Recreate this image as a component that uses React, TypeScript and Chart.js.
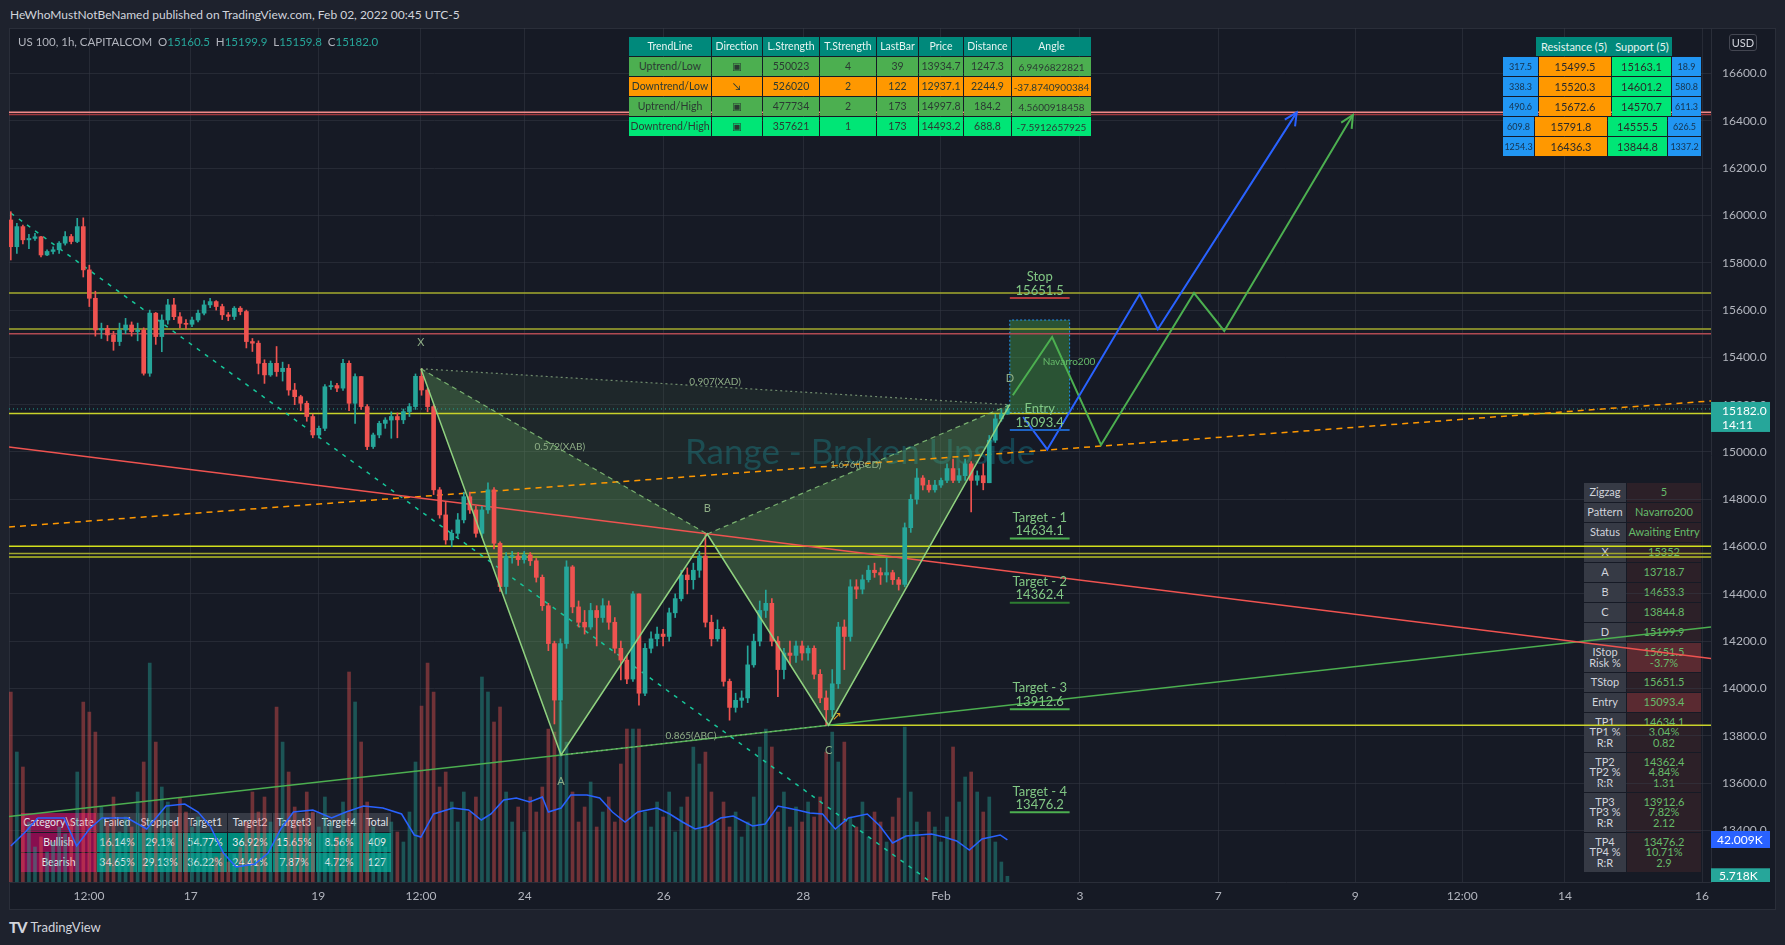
import React, { useEffect, useRef } from "react";
import { Chart, registerables } from "chart.js";

Chart.register(...registerables);

const FONT = "Lato, 'Noto Sans', 'DejaVu Sans', sans-serif";

/* ---------------- data ---------------- */
const FIRST_OPEN = 15981;
const CLOSE = [
  15868, 15953, 15897, 15903, 15910, 15833, 15848, 15855, 15883, 15911,
  15890, 15953, 15770, 15650, 15516, 15523, 15495, 15467, 15516, 15537,
  15509, 15516, 15333, 15587, 15488, 15558, 15622, 15572, 15544, 15540,
  15558, 15587, 15622, 15636, 15615, 15580, 15573, 15608, 15594, 15467,
  15460, 15375, 15326, 15375, 15340, 15354, 15262, 15234, 15206, 15150,
  15072, 15100, 15276, 15281, 15270, 15375, 15206, 15319, 15192, 15023,
  15072, 15121, 15135, 15150, 15136, 15171, 15192, 15320, 15262, 15192,
  14840, 14734, 14628, 14656, 14713, 14811, 14755, 14656, 14755, 14840,
  14614, 14431, 14558, 14560, 14545, 14565, 14540, 14470, 14350, 14190,
  13951, 14190, 14514, 14345, 14280, 14260, 14330, 14300, 14350, 14280,
  14170, 14120, 14040, 14400, 13980, 14170, 14210, 14230, 14220, 14320,
  14380, 14480, 14460, 14500, 14560, 14280, 14210, 14250, 14030, 13920,
  13950, 13960, 14100, 14200, 14330, 14360, 14200, 14080, 14150, 14140,
  14180, 14150, 14170, 14060, 13960, 13910, 14020, 14260, 14220, 14430,
  14420, 14460, 14500, 14490, 14480, 14490, 14460, 14440, 14680, 14800,
  14890, 14860, 14840, 14860, 14880, 14930, 14880, 14900, 14950, 14880,
  14900, 14870, 15050, 15140, 15160.5, 15182.0,
];
const HIGH = [
  16016, 15967, 15960, 15920, 15925, 15912, 15855, 15868, 15890, 15932,
  15920, 15988, 15990, 15790, 15680, 15545, 15535, 15510, 15545, 15565,
  15550, 15545, 15525, 15600, 15590, 15580, 15645, 15650, 15590, 15560,
  15570, 15600, 15640, 15650, 15640, 15625, 15590, 15615, 15615, 15600,
  15480, 15470, 15390, 15385, 15446, 15380, 15370, 15290, 15240, 15215,
  15160, 15110, 15285, 15300, 15290, 15392, 15385, 15330, 15320, 15200,
  15080, 15130, 15145, 15170, 15165, 15182, 15205, 15330, 15352, 15270,
  15200, 14850, 14790, 14670, 14740, 14830, 14830, 14770, 14770, 14870,
  14850, 14620, 14575, 14580, 14575, 14580, 14575, 14550, 14480, 14360,
  14200, 14210, 14540, 14520, 14370, 14330, 14360, 14350, 14380, 14370,
  14300, 14200, 14140, 14410, 14400, 14190, 14240, 14260, 14250, 14340,
  14400, 14500, 14510, 14530, 14580, 14653.3, 14310, 14290, 14260, 14040,
  13980, 13990, 14180, 14230, 14370, 14416, 14380, 14220, 14170, 14200,
  14200, 14200, 14180, 14180, 14080, 13990, 14080, 14280, 14290, 14460,
  14460, 14480, 14520, 14530, 14510, 14550, 14500, 14470, 14700, 14820,
  14930, 14900, 14880, 14880, 14890, 14950, 14970, 14930, 14970, 14960,
  14920, 14950, 15070, 15160, 15180, 15199.9,
];
const LOW = [
  15812, 15840, 15880, 15860, 15895, 15825, 15830, 15838, 15840, 15875,
  15880, 15885, 15740, 15615, 15490, 15480, 15470, 15430, 15450, 15500,
  15490, 15470, 15325, 15320, 15455, 15424, 15540, 15560, 15525, 15520,
  15530, 15550, 15580, 15610, 15600, 15560, 15555, 15560, 15580, 15440,
  15425, 15330, 15290, 15320, 15320, 15300, 15240, 15200, 15175, 15130,
  15060, 15060, 15090, 15265, 15255, 15260, 15175, 15121, 15180, 15010,
  15015, 15060, 15100, 15058, 15060, 15120, 15150, 15180, 15240, 15170,
  14820, 14720, 14610, 14600, 14640, 14700, 14740, 14640, 14640, 14740,
  14590, 14410, 14400, 14530, 14520, 14530, 14520, 14450, 14330, 14160,
  13850, 13718.7, 14170, 14320, 14260, 14230, 14250, 14180, 14280, 14250,
  14150, 14036, 14020, 14030, 13930, 13970, 14150, 14180, 14180, 14200,
  14300, 14370, 14400, 14420, 14470, 14260, 14180, 14200, 14010, 13866,
  13900, 13920, 13940, 14090, 14180, 14300, 14180, 13965, 14040, 14100,
  14110, 14120, 14120, 14040, 13940, 13844.8, 13880, 14000, 14080, 14200,
  14380, 14400, 14450, 14470, 14440, 14450, 14440, 14416, 14430, 14660,
  14780, 14840, 14830, 14830, 14850, 14870, 14870, 14870, 14880, 14747,
  14860, 14840, 14870, 15040, 15130, 15159.8,
];
const VOLUME_K = [
  190, 130, 115, 60, 35, 45, 30, 40, 55, 48,
  62, 110, 180, 170, 150, 75, 60, 85, 50, 65,
  55, 90, 120, 219, 140, 95, 80, 60, 84, 70,
  55, 65, 45, 35, 25, 30, 20, 28, 35, 60,
  90, 70, 85, 60, 175, 140, 110, 75, 60, 90,
  70, 55, 85, 60, 45, 80, 210, 180, 140, 80,
  55, 45, 35, 60, 50, 40, 70, 120, 176, 219,
  190, 95, 110, 80, 60, 90, 70, 85, 205, 190,
  160, 175, 90, 60, 75, 50, 85, 70, 95, 153,
  150, 180, 140, 90, 60, 75, 100, 55, 70, 85,
  60, 118, 153, 153, 153, 70, 55, 80, 65, 90,
  50, 75, 85, 135, 118, 130, 90, 60, 80, 55,
  70, 45, 60, 85, 135, 153, 135, 70, 90, 55,
  75, 60, 80, 65, 85, 130, 150, 120, 140, 65,
  55, 80, 45, 70, 60, 40, 65, 84, 155, 90,
  60, 45, 70, 55, 40, 65, 135, 80, 105, 110,
  90, 70, 85, 40, 20, 5.718,
];
const VOL_MA_AT = [0, 2.4, 4.5, 8.8, 10.9, 13, 15.1, 19.3, 22.5, 25.7, 28.8, 31, 33, 35.2, 37.3, 40.4, 42.6, 44.7, 46.8, 50, 53.1, 55.5, 58.4, 61.6, 64.7, 66.8, 67.9, 70, 73.2, 75.8, 77.9, 79.5, 81.6, 83.7, 85.9, 88, 89, 91.1, 92.7, 95.4, 97.5, 99.6, 101.7, 103.8, 107, 109.1, 111.2, 113.3, 115.4, 117.5, 119.6, 122.8, 124.9, 127, 130.2, 132.3, 134.4, 136.5, 138.7, 141.8, 143.9, 146, 148.2, 152.4, 154.5, 156.6, 158.7, 160.8, 163.8, 165];
const VOL_MA_K = [36, 50, 64, 64, 36, 53, 64, 64, 53, 76, 78, 70, 56, 29, 15, 18, 29, 53, 70, 72, 64, 70, 76, 74, 68, 47, 45, 68, 74, 72, 62, 68, 82, 84, 80, 85, 70, 74, 87, 87, 84, 70, 60, 70, 74, 68, 60, 53, 56, 64, 66, 56, 58, 76, 72, 69, 68, 53, 64, 68, 56, 39, 46, 48, 45, 41, 32, 43, 47, 42.009];

const PRICE_TICKS = [13400, 13600, 13800, 14000, 14200, 14400, 14600, 14800, 15000, 15200, 15400, 15600, 15800, 16000, 16200, 16400, 16600];
const TIME_TICK_AT = [12.95, 29.8, 50.9, 67.9, 85.1, 108.1, 131.2, 154.0, 177.0, 199.9, 222.6, 240.3, 257.3, 280.0];
const TIME_TICK_LABELS = ["12:00", "17", "19", "12:00", "24", "26", "28", "Feb", "3", "7", "9", "12:00", "14", "16"];

const LEVEL_PRICES = [16436.3, 16427.5, 15672.6, 15520.3, 15499.5, 15163.1, 14601.2, 14570.7, 14555.5];
const SUPPORT_C = 13844.8;
const LAST_PRICE = 15182.0;
const COUNTDOWN = "14:11";

const PAT_NAMES = ["X", "A", "B", "C", "D"];
const PAT_AT = [67.9, 91.1, 115.3, 135.4, 165.4];
const PAT_PRICE = [15352, 13718.7, 14653.3, 13844.8, 15199.9];

const RATIO_TEXT = ["0.907(XAD)", "0.572(XAB)", "1.676(BCD)", "0.865(ABC)"];
const RATIO_AT = [116.6, 90.9, 139.9, 112.6];
const RATIO_PRICE = [15296, 15021, 14945, 13799];

const TREND_RED = [15021, 14127];
const TREND_GREEN = [13459, 14260];
const TREND_ORANGE = [14683, 15216];
const TREND_TEAL_AT = [0, 152.3];
const TREND_TEAL = [16010, 13181.8];

const BOX_AT = [165.4, 175.3];
const BOX_PRICE = [15166, 15558];

const PROJ_BLUE_AT = [167.6, 171.6, 186.9, 189.9, 212.9];
const PROJ_BLUE = [15148, 15011, 15668, 15519, 16436];
const PROJ_GREEN_AT = [165.9, 172.4, 180.5, 195.9, 200.9, 222.2];
const PROJ_GREEN = [15240, 15486, 15030, 15672, 15512, 16425];

const TARGET_TITLES = ["Stop", "Entry", "Target - 1", "Target - 2", "Target - 3", "Target - 4"];
const TARGET_PRICES = [15651.5, 15093.4, 14634.1, 14362.4, 13912.6, 13476.2];

const WATERMARK = "Range - Broken Upside";
const WATERMARK_AT = 140.6;
const WATERMARK_PRICE = 14996;
const PATTERN_NAME = "Navarro200";
const PATTERN_NAME_AT = 175.2;
const PATTERN_NAME_PRICE = 15381;
const C_ARROW_AT = 136.8;
const C_ARROW_PRICE = 13880;

const TREND_HEAD = ["TrendLine", "Direction", "L.Strength", "T.Strength", "LastBar", "Price", "Distance", "Angle"];
const TREND_ROWS = [
  ["Uptrend/Low", "▣", "550023", "4", "39", "13934.7", "1247.3", "6.9496822821"],
  ["Downtrend/Low", "↘", "526020", "2", "122", "12937.1", "2244.9", "-37.8740900384"],
  ["Uptrend/High", "▣", "477734", "2", "173", "14997.8", "184.2", "4.5600918458"],
  ["Downtrend/High", "▣", "357621", "1", "173", "14493.2", "688.8", "-7.5912657925"],
];
const SR_HEAD = ["Resistance (5)", "Support (5)"];
const SR_RES_DIST = ["317.5", "338.3", "490.6", "609.8", "1254.3"];
const SR_RES = ["15499.5", "15520.3", "15672.6", "15791.8", "16436.3"];
const SR_SUP = ["15163.1", "14601.2", "14570.7", "14555.5", "13844.8"];
const SR_SUP_DIST = ["18.9", "580.8", "611.3", "626.5", "1337.2"];
const ZZ_LABELS = ["Zigzag", "Pattern", "Status", "X", "A", "B", "C", "D", "IStop\nRisk %", "TStop", "Entry", "TP1\nTP1 %\nR:R", "TP2\nTP2 %\nR:R", "TP3\nTP3 %\nR:R", "TP4\nTP4 %\nR:R"];
const ZZ_VALUES = ["5", "Navarro200", "Awaiting Entry", "15352", "13718.7", "14653.3", "13844.8", "15199.9", "15651.5\n-3.7%", "15651.5", "15093.4", "14634.1\n3.04%\n0.82", "14362.4\n4.84%\n1.31", "13912.6\n7.82%\n2.12", "13476.2\n10.71%\n2.9"];
const STATS_HEAD = ["Category\\State", "Failed", "Stopped", "Target1", "Target2", "Target3", "Target4", "Total"];
const STATS_ROWS = [
  ["Bullish", "16.14%", "29.1%", "54.77%", "36.92%", "15.65%", "8.56%", "409"],
  ["Bearish", "34.65%", "29.13%", "36.22%", "24.41%", "7.87%", "4.72%", "127"],
];

/* ---------------- scale ranges & styles ---------------- */
const X_MIN = -0.3;
const X_MAX = 281.49;
const Y_MIN = 13181.8;
const Y_MAX = 16792.8;
const VOL_MAX = 854;

const UP_C = "#26a69a";
const DN_C = "#ef5350";
const GRID = "rgba(54,58,69,0.5)";
const BORDER = "#2a2e39";
const AXIS_TEXT = "#b2b5be";
const LEVEL_COLORS = ["#f08a8a", "#a3383e", "#a4ab2e", "#a4ab2e", "#b04a52", "#c9d22a", "#d2df1d", "#9fa52e", "#b8c024"];
const TARGET_LINE_COLORS = ["#b2383c", "#1e63c4", "#4caf50", "#2e7d32", "#4caf50", "#4caf50"];
const PAT_LABEL_DY = [-26, 26, -26, 25, -26];

const fmtK = (v: number) => v.toFixed(3) + "K";

function buildConfig() {
  const OPEN = CLOSE.map((_, i) => (i === 0 ? FIRST_OPEN : CLOSE[i - 1]));
  const up = CLOSE.map((c, i) => c >= OPEN[i]);
  const P = (xs: number[], ys: number[]) => xs.map((x, i) => ({ x, y: ys[i] }));
  const poly = (idx: number[]) => idx.map((k) => ({ x: PAT_AT[k], y: PAT_PRICE[k] }));
  const L = (data: any[], color: string, width: number, dash: number[], order: number, extra: any = {}) => ({
    type: "line", data, borderColor: color, borderWidth: width, borderDash: dash,
    pointRadius: 0, pointHoverRadius: 0, fill: false, tension: 0, order, yAxisID: "y", ...extra,
  });
  const ds: any[] = [];
  ds.push({
    type: "bar", yAxisID: "yv", data: VOLUME_K.map((v, i) => ({ x: i, y: v })),
    backgroundColor: up.map((u) => (u ? "rgba(38,166,154,0.42)" : "rgba(239,83,80,0.42)")),
    barThickness: 3, maxBarThickness: 3, grouped: false, order: 100,
  });
  ds.push(L(poly([0, 2, 4, 0]), "rgba(0,0,0,0)", 0, [], 96, { fill: "shape", backgroundColor: "rgba(110,180,100,0.09)" }));
  ds.push(L(poly([0, 1, 2, 0]), "rgba(0,0,0,0)", 0, [], 95, { fill: "shape", backgroundColor: "rgba(110,180,100,0.33)" }));
  ds.push(L(poly([2, 3, 4, 2]), "rgba(0,0,0,0)", 0, [], 95, { fill: "shape", backgroundColor: "rgba(110,180,100,0.33)" }));
  ds.push(L([
    { x: BOX_AT[0], y: BOX_PRICE[0] }, { x: BOX_AT[1], y: BOX_PRICE[0] },
    { x: BOX_AT[1], y: BOX_PRICE[1] }, { x: BOX_AT[0], y: BOX_PRICE[1] }, { x: BOX_AT[0], y: BOX_PRICE[0] },
  ], "#2196f3", 1, [2, 2], 94, { fill: "shape", backgroundColor: "rgba(76,175,80,0.38)" }));
  LEVEL_PRICES.forEach((p, k) => ds.push(L([{ x: X_MIN, y: p }, { x: X_MAX, y: p }], LEVEL_COLORS[k], 1.5, [], 80)));
  ds.push(L([{ x: PAT_AT[3], y: SUPPORT_C }, { x: X_MAX, y: SUPPORT_C }], "#c9d22a", 1.5, [], 80));
  ds.push(L([{ x: X_MIN, y: LAST_PRICE }, { x: X_MAX, y: LAST_PRICE }], "rgba(38,166,154,0.9)", 1, [1, 3], 79));
  ds.push(L([{ x: X_MIN, y: TREND_RED[0] }, { x: X_MAX, y: TREND_RED[1] }], "#ef5350", 1.5, [], 70));
  ds.push(L([{ x: X_MIN, y: TREND_GREEN[0] }, { x: X_MAX, y: TREND_GREEN[1] }], "#4caf50", 1.5, [], 70));
  ds.push(L([{ x: X_MIN, y: TREND_ORANGE[0] }, { x: X_MAX, y: TREND_ORANGE[1] }], "#ff9800", 1.5, [6, 5], 70));
  ds.push(L(P(TREND_TEAL_AT, TREND_TEAL), "#16c79a", 1.5, [4, 6], 70));
  ds.push({
    type: "bar", yAxisID: "y", data: CLOSE.map((_, i) => ({ x: i, y: [LOW[i], HIGH[i]] })),
    backgroundColor: up.map((u) => (u ? UP_C : DN_C)), barThickness: 1, maxBarThickness: 1, grouped: false, order: 50,
  });
  ds.push({
    type: "bar", yAxisID: "y", data: CLOSE.map((c, i) => ({ x: i, y: [OPEN[i], c] })),
    backgroundColor: up.map((u) => (u ? UP_C : DN_C)), barThickness: 4, maxBarThickness: 4, minBarLength: 1, grouped: false, order: 45,
  });
  ds.push(L(poly([0, 1, 2, 3, 4]), "#8fd17f", 1.5, [], 30));
  ds.push(L(poly([0, 2]), "rgba(143,209,127,0.8)", 1.2, [5, 4], 31));
  ds.push(L(poly([2, 4]), "rgba(143,209,127,0.8)", 1.2, [5, 4], 31));
  ds.push(L(poly([0, 4]), "rgba(150,185,140,0.7)", 1.2, [2, 3], 31));
  ds.push(L(poly([1, 3]), "rgba(150,185,140,0.7)", 1.2, [2, 3], 31));
  ds.push(L(P(PROJ_BLUE_AT, PROJ_BLUE), "#2962ff", 2, [], 12));
  ds.push(L(P(PROJ_GREEN_AT, PROJ_GREEN), "#4caf50", 2, [], 12));
  TARGET_PRICES.forEach((p, k) => ds.push(L([{ x: BOX_AT[0], y: p }, { x: BOX_AT[1], y: p }], TARGET_LINE_COLORS[k], 2, [], 8)));
  ds.push(L(P(VOL_MA_AT, VOL_MA_K), "#2962ff", 1.5, [], 6, { yAxisID: "yv" }));

  const overlay = {
    id: "overlay",
    beforeDatasetsDraw(chart: any) {
      const { ctx, chartArea: a, scales } = chart;
      ctx.save();
      ctx.beginPath();
      ctx.rect(a.left, a.top, a.right - a.left, a.bottom - a.top);
      ctx.clip();
      ctx.font = `35px ${FONT}`;
      ctx.fillStyle = "rgba(20,140,160,0.36)";
      ctx.textAlign = "center";
      ctx.textBaseline = "middle";
      ctx.fillText(WATERMARK, scales.x.getPixelForValue(WATERMARK_AT), scales.y.getPixelForValue(WATERMARK_PRICE));
      ctx.restore();
    },
    afterDatasetsDraw(chart: any) {
      const { ctx, chartArea: a, scales } = chart;
      const px = (v: number) => scales.x.getPixelForValue(v);
      const py = (v: number) => scales.y.getPixelForValue(v);
      ctx.save();
      ctx.beginPath();
      ctx.rect(a.left, a.top, a.right - a.left, a.bottom - a.top);
      ctx.clip();
      ctx.textAlign = "center";
      ctx.textBaseline = "middle";
      ctx.font = `11px ${FONT}`;
      ctx.fillStyle = "#8fae86";
      PAT_NAMES.forEach((n, k) => ctx.fillText(n, px(PAT_AT[k]), py(PAT_PRICE[k]) + PAT_LABEL_DY[k]));
      ctx.font = `10px ${FONT}`;
      RATIO_TEXT.forEach((t, k) => ctx.fillText(t, px(RATIO_AT[k]), py(RATIO_PRICE[k])));
      ctx.fillStyle = "#66bb6a";
      ctx.fillText(PATTERN_NAME, px(PATTERN_NAME_AT), py(PATTERN_NAME_PRICE));
      ctx.font = `13px ${FONT}`;
      ctx.fillStyle = "#81c784";
      const cx = px((BOX_AT[0] + BOX_AT[1]) / 2);
      TARGET_TITLES.forEach((t, k) => {
        const yy = py(TARGET_PRICES[k]);
        ctx.fillText(t, cx, yy - 21);
        ctx.fillText(TARGET_PRICES[k].toFixed(1), cx, yy - 7.5);
      });
      ctx.font = `12px 'DejaVu Sans', sans-serif`;
      ctx.fillStyle = "#e0a020";
      ctx.fillText("↗", px(C_ARROW_AT), py(C_ARROW_PRICE));
      const arrow = (xs: number[], ys: number[], color: string) => {
        const n = xs.length;
        const x1 = px(xs[n - 2]), y1 = py(ys[n - 2]), x2 = px(xs[n - 1]), y2 = py(ys[n - 1]);
        const ang = Math.atan2(y2 - y1, x2 - x1);
        ctx.strokeStyle = color;
        ctx.lineWidth = 2;
        ctx.beginPath();
        ctx.moveTo(x2 - 14 * Math.cos(ang - 0.45), y2 - 14 * Math.sin(ang - 0.45));
        ctx.lineTo(x2, y2);
        ctx.lineTo(x2 - 14 * Math.cos(ang + 0.45), y2 - 14 * Math.sin(ang + 0.45));
        ctx.stroke();
      };
      arrow(PROJ_BLUE_AT, PROJ_BLUE, "#2962ff");
      arrow(PROJ_GREEN_AT, PROJ_GREEN, "#4caf50");
      ctx.restore();
    },
    afterDraw(chart: any) {
      const { ctx, chartArea: a, scales } = chart;
      const left = a.right;
      const w = 59;
      ctx.save();
      ctx.font = `12px ${FONT}`;
      ctx.textAlign = "left";
      ctx.textBaseline = "middle";
      const p = scales.y.getPixelForValue(LAST_PRICE);
      ctx.fillStyle = "#26a69a";
      ctx.fillRect(left, p - 7, w, 30);
      ctx.fillStyle = "#ffffff";
      ctx.fillText(LAST_PRICE.toFixed(1), left + 11, p + 2);
      ctx.fillText(COUNTDOWN, left + 11, p + 16);
      const ma = VOL_MA_K[VOL_MA_K.length - 1];
      const pm = scales.yv.getPixelForValue(ma);
      ctx.fillStyle = "#2962ff";
      ctx.fillRect(left, pm - 9, w, 17);
      ctx.fillStyle = "#ffffff";
      ctx.fillText(fmtK(ma), left + 6, pm);
      ctx.beginPath();
      ctx.rect(left, 0, w + 10, a.bottom);
      ctx.clip();
      const lv = VOLUME_K[VOLUME_K.length - 1];
      const pv = scales.yv.getPixelForValue(lv);
      ctx.fillStyle = "#26a69a";
      ctx.fillRect(left, pv - 8, w, 17);
      ctx.fillStyle = "#ffffff";
      ctx.fillText(fmtK(lv), left + 8, pv);
      ctx.restore();
    },
  };

  return {
    type: "line",
    data: { datasets: ds },
    options: {
      responsive: false,
      animation: false,
      devicePixelRatio: 1,
      events: [],
      layout: { padding: 0, autoPadding: false },
      plugins: { legend: { display: false }, tooltip: { enabled: false } },
      scales: {
        x: {
          type: "linear", min: X_MIN, max: X_MAX, offset: false, bounds: "data",
          grid: { color: GRID, drawTicks: false, offset: false },
          border: { display: true, color: BORDER },
          ticks: {
            color: AXIS_TEXT, font: { family: FONT, size: 12 }, padding: 7, maxRotation: 0, autoSkip: false,
            callback: (_v: any, i: number) => TIME_TICK_LABELS[i] ?? "",
          },
          afterBuildTicks: (s: any) => { s.ticks = TIME_TICK_AT.map((v) => ({ value: v })); },
          afterFit: (s: any) => { s.height = 28; s.paddingLeft = 0; s.paddingRight = 0; },
        },
        y: {
          type: "linear", position: "right", min: Y_MIN, max: Y_MAX, bounds: "data",
          grid: { color: GRID, drawTicks: false },
          border: { display: true, color: BORDER },
          ticks: { color: AXIS_TEXT, font: { family: FONT, size: 12 }, padding: 11, callback: (v: any) => Number(v).toFixed(1) },
          afterBuildTicks: (s: any) => { s.ticks = PRICE_TICKS.map((v) => ({ value: v })); },
          afterFit: (s: any) => { s.width = 65; s.paddingTop = 0; s.paddingBottom = 0; },
        },
        yv: { type: "linear", display: false, min: 0, max: VOL_MAX },
      },
    },
    plugins: [overlay],
  };
}

type CellProps = { x: number; y: number; w: number; h: number; bg: string; color: string; text: string; fs: number; lh?: number; justify?: string };
function Cell(p: CellProps) {
  return (
    <div
      style={{
        position: "absolute", left: p.x, top: p.y, width: p.w, height: p.h, background: p.bg, color: p.color,
        fontSize: p.fs, lineHeight: `${p.lh ?? p.fs + 2}px`, display: "flex", alignItems: "center",
        justifyContent: p.justify ?? "center", textAlign: "center", whiteSpace: "pre", overflow: "hidden",
        fontFamily: FONT, boxSizing: "border-box",
      }}
    >
      {p.text}
    </div>
  );
}

const TC_X = [629, 712, 763, 820, 877, 919, 964, 1012];
const TC_W = [82, 50, 56, 56, 41, 44, 47, 79];
const TC_FS = [10.5, 10.5, 10.5, 10.5, 10.5, 10.5, 10.5, 10];
const TREND_ROW_BG = ["#4caf50", "#ff9800", "#4caf50", "#00e676"];
const ST_X = [21, 97, 138, 183, 228, 273, 316, 363];
const ST_W = [75, 40, 44, 44, 44, 42, 46, 28];

function TrendTable() {
  const cells: any[] = [];
  TREND_HEAD.forEach((t, c) => cells.push(<Cell key={`h${c}`} x={TC_X[c]} y={37} w={TC_W[c]} h={19} bg="#00897b" color="#e6f4f1" text={t} fs={10.5} />));
  TREND_ROWS.forEach((row, r) =>
    row.forEach((t, c) =>
      cells.push(<Cell key={`r${r}c${c}`} x={TC_X[c]} y={57 + 20 * r} w={TC_W[c]} h={19} bg={TREND_ROW_BG[r]} color="#2b3a33" text={t} fs={TC_FS[c]} />)
    )
  );
  return <>{cells}</>;
}

function SRTable() {
  const cells: any[] = [];
  cells.push(<Cell key="h0" x={1536} y={37} w={76} h={19} bg="#00897b" color="#e6f4f1" text={SR_HEAD[0]} fs={11} />);
  cells.push(<Cell key="h1" x={1612} y={37} w={60} h={19} bg="#00897b" color="#e6f4f1" text={SR_HEAD[1]} fs={11} />);
  SR_RES.forEach((_, r) => {
    const xs = r < 3 ? [1503, 1539, 1612, 1672] : [1503, 1535, 1608, 1668];
    const ws = r < 3 ? [35, 72, 59, 29] : [31, 72, 59, 33];
    const y = 57 + 20 * r;
    cells.push(<Cell key={`a${r}`} x={xs[0]} y={y} w={ws[0]} h={19} bg="#2196f3" color="#16324d" text={SR_RES_DIST[r]} fs={9} />);
    cells.push(<Cell key={`b${r}`} x={xs[1]} y={y} w={ws[1]} h={19} bg="#ff9800" color="#2a2a2a" text={SR_RES[r]} fs={11} />);
    cells.push(<Cell key={`c${r}`} x={xs[2]} y={y} w={ws[2]} h={19} bg="#00e676" color="#2a2a2a" text={SR_SUP[r]} fs={11} />);
    cells.push(<Cell key={`d${r}`} x={xs[3]} y={y} w={ws[3]} h={19} bg="#2196f3" color="#16324d" text={SR_SUP_DIST[r]} fs={9} />);
  });
  return <>{cells}</>;
}

function ZigzagTable() {
  const cells: any[] = [];
  let y = 483;
  ZZ_LABELS.forEach((lab, r) => {
    const lines = lab.split("\n").length;
    const h = 19 + (lines - 1) * 10;
    const hi = r === 8 || r === 10;
    cells.push(<Cell key={`l${r}`} x={1584} y={y} w={42} h={h} bg="#363a45" color="#d1d4dc" text={lab} fs={11} lh={10.5} />);
    cells.push(<Cell key={`v${r}`} x={1627} y={y} w={74} h={h} bg={hi ? "#5a2a31" : "#2c2028"} color="#66bb6a" text={ZZ_VALUES[r]} fs={11} lh={10.5} />);
    y += h + 1;
  });
  return <>{cells}</>;
}

function StatsTable() {
  const cells: any[] = [];
  STATS_HEAD.forEach((t, c) =>
    cells.push(<Cell key={`h${c}`} x={ST_X[c]} y={813} w={ST_W[c]} h={19} bg={c === 0 ? "#8e1450" : "#363a45"} color="#e0e3eb" text={t} fs={10.5} />)
  );
  STATS_ROWS.forEach((row, r) =>
    row.forEach((t, c) =>
      cells.push(<Cell key={`r${r}c${c}`} x={ST_X[c]} y={833 + 20 * r} w={ST_W[c]} h={19} bg={c === 0 ? "#880e4f" : "#00897b"} color="#e8eaed" text={t} fs={10.5} />)
    )
  );
  return <>{cells}</>;
}

export default function App() {
  const canvasRef = useRef<HTMLCanvasElement | null>(null);
  useEffect(() => {
    const canvas = canvasRef.current;
    if (!canvas) return;
    const chart = new Chart(canvas, buildConfig() as any);
    return () => chart.destroy();
  }, []);
  const val = { color: "#26a69a" };
  return (
    <div style={{ position: "fixed", left: 0, top: 0, width: 1785, height: 945, background: "#1e222d", overflow: "hidden", fontFamily: FONT }}>
      <div style={{ position: "absolute", left: 10, top: 6, fontSize: 12, lineHeight: "18px", color: "#d1d4dc", whiteSpace: "nowrap" }}>
        HeWhoMustNotBeNamed published on TradingView.com, Feb 02, 2022 00:45 UTC-5
      </div>
      <div style={{ position: "absolute", left: 9, top: 28, width: 1767, height: 882, background: "#161a25", border: `1px solid ${BORDER}`, boxSizing: "border-box" }} />
      <StatsTable />
      <ZigzagTable />
      <canvas ref={canvasRef} width={1767} height={882} style={{ position: "absolute", left: 9, top: 28, width: 1767, height: 882 }} />
      <div style={{ position: "absolute", left: 18, top: 33, fontSize: 11.5, lineHeight: "18px", color: "#b2b5be", whiteSpace: "pre" }}>
        {"US 100, 1h, CAPITALCOM  O"}<span style={val}>15160.5</span>{"  H"}<span style={val}>15199.9</span>{"  L"}<span style={val}>15159.8</span>{"  C"}<span style={val}>15182.0</span>
      </div>
      <TrendTable />
      <SRTable />
      <div style={{ position: "absolute", left: 1729, top: 34, width: 28, height: 17, border: "1px solid #434651", borderRadius: 3, boxSizing: "border-box", color: "#d1d4dc", fontSize: 11, lineHeight: "15px", textAlign: "center" }}>USD</div>
      <div style={{ position: "absolute", left: 9, top: 918, color: "#d1d4dc", whiteSpace: "nowrap", display: "flex", alignItems: "center", gap: 4 }}>
        <span style={{ fontWeight: 900, fontSize: 15, letterSpacing: -1 }}>TV</span>
        <span style={{ fontSize: 13 }}>TradingView</span>
      </div>
    </div>
  );
}
